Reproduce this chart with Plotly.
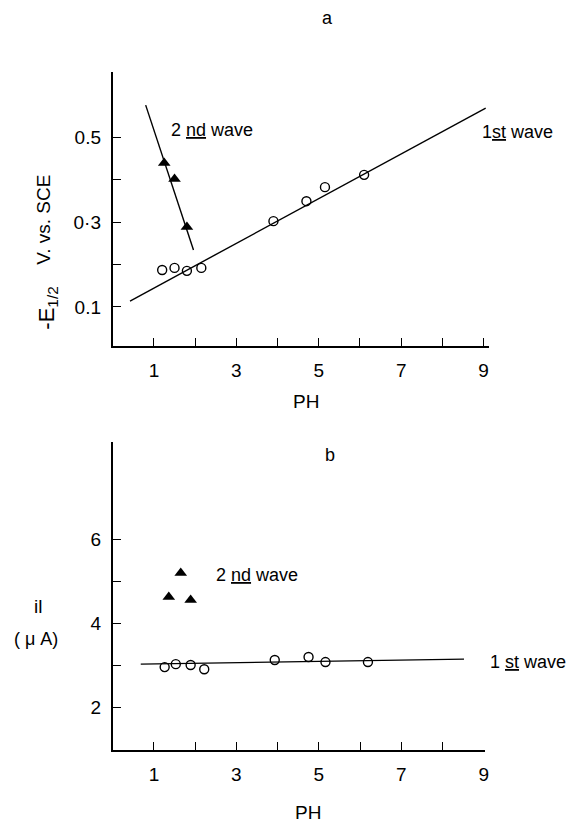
import plotly.graph_objects as go

# ---- panel a: half-wave potential vs pH ----
ph_first_a = [1.2, 1.5, 1.8, 2.15, 3.9, 4.7, 5.15, 6.1]
e_first_a = [0.187, 0.192, 0.185, 0.192, 0.302, 0.349, 0.382, 0.411]
ph_second_a = [1.25, 1.5, 1.8]
e_second_a = [0.439, 0.401, 0.288]
fit_first_a_x = [0.42, 9.05]
fit_first_a_y = [0.114, 0.568]
fit_second_a_x = [0.8, 1.96]
fit_second_a_y = [0.575, 0.234]

# ---- panel b: limiting current vs pH ----
ph_first_b = [1.26, 1.53, 1.89, 2.22, 3.93, 4.75, 5.16, 6.19]
il_first_b = [2.95, 3.02, 3.0, 2.90, 3.12, 3.19, 3.07, 3.07]
ph_second_b = [1.36, 1.65, 1.89]
il_second_b = [4.62, 5.19, 4.55]
fit_first_b_x = [0.68, 8.52]
fit_first_b_y = [3.02, 3.14]

# ---- ticks ----
x_tickvals = [1, 3, 5, 7, 9]
x_ticktext = ["1", "3", "5", "7", "9"]
x_minorvals = [2, 4, 6, 8]
ya_tickvals = [0.1, 0.3, 0.5]
ya_ticktext = ["0.1", "0·3", "0.5"]
ya_minorvals = [0.2, 0.4]
yb_tickvals = [2, 4, 6]
yb_ticktext = ["2", "4", "6"]
yb_minorvals = [3, 5]

W, H = 576, 822
FONT = "Liberation Sans"


def px(x, y):
    """pixel position -> paper coordinates"""
    return x / W, 1 - y / H


fig = go.Figure()

line_style = dict(color="black", width=1.4)
circle_style = dict(symbol="circle-open", size=9, color="black", line=dict(width=1.4, color="black"))
tri_style = dict(symbol="triangle-up", size=11, color="black")

# panel a
fig.add_trace(go.Scatter(x=fit_first_a_x, y=fit_first_a_y, mode="lines", line=line_style, xaxis="x", yaxis="y"))
fig.add_trace(go.Scatter(x=fit_second_a_x, y=fit_second_a_y, mode="lines", line=line_style, xaxis="x", yaxis="y"))
fig.add_trace(go.Scatter(x=ph_first_a, y=e_first_a, mode="markers", marker=circle_style, xaxis="x", yaxis="y"))
fig.add_trace(go.Scatter(x=ph_second_a, y=e_second_a, mode="markers", marker=tri_style, xaxis="x", yaxis="y"))

# panel b
fig.add_trace(go.Scatter(x=fit_first_b_x, y=fit_first_b_y, mode="lines", line=line_style, xaxis="x2", yaxis="y2"))
fig.add_trace(go.Scatter(x=ph_first_b, y=il_first_b, mode="markers", marker=circle_style, xaxis="x2", yaxis="y2"))
fig.add_trace(go.Scatter(x=ph_second_b, y=il_second_b, mode="markers", marker=tri_style, xaxis="x2", yaxis="y2"))

axis_common = dict(
    showgrid=False, zeroline=False, showline=True, linecolor="black", linewidth=1.8,
    ticks="inside", ticklen=8, tickwidth=1.4, tickcolor="black", tickmode="array",
    tickfont=dict(family=FONT, size=19, color="black"), ticklabelstandoff=6,
)


def minor(vals):
    return dict(tickmode="array", tickvals=vals, ticks="inside", ticklen=8,
                tickwidth=1.4, tickcolor="black", showgrid=False)


xa0, _ = px(113.5, 0)
xa1, _ = px(492, 0)
xb1, _ = px(488, 0)
_, ya_top = px(0, 72)
_, ya_bot = px(0, 346)
_, yb_top = px(0, 442)
_, yb_bot = px(0, 750)

fig.update_layout(
    width=W, height=H, margin=dict(l=0, r=0, t=0, b=0),
    paper_bgcolor="white", plot_bgcolor="white", showlegend=False,
    font=dict(family=FONT, color="black"),
    xaxis=dict(axis_common, domain=[xa0, xa1], range=[0, 9.12], anchor="y",
               tickvals=x_tickvals, ticktext=x_ticktext, minor=minor(x_minorvals)),
    yaxis=dict(axis_common, domain=[ya_bot, ya_top], range=[0.0082, 0.653], anchor="x",
               tickvals=ya_tickvals, ticktext=ya_ticktext, minor=minor(ya_minorvals)),
    xaxis2=dict(axis_common, domain=[xa0, xb1], range=[0, 9.02], anchor="y2",
                tickvals=x_tickvals, ticktext=x_ticktext, minor=minor(x_minorvals)),
    yaxis2=dict(axis_common, domain=[yb_bot, yb_top], range=[0.976, 8.31], anchor="x2",
                tickvals=yb_tickvals, ticktext=yb_ticktext, minor=minor(yb_minorvals)),
)

ann = []


def paper_text(label, pos, size=18, anchor="center", angle=0):
    x, y = px(*pos)
    ann.append(dict(x=x, y=y, xref="paper", yref="paper", text=label, showarrow=False,
                    textangle=angle, xanchor=anchor, yanchor="middle",
                    font=dict(family=FONT, size=size, color="black")))


# wave labels
paper_text("2 <u>nd</u> wave", (170, 130), anchor="left")
paper_text("1<u>st</u> wave", (483, 132), anchor="left")
paper_text("2 <u>nd</u> wave", (215, 575), anchor="left")
paper_text("1 <u>st</u> wave", (491, 662), anchor="left")

# panel letters
paper_text("a", (330, 18))
paper_text("b", (332, 455))

# axis titles
paper_text("PH", (308, 402), size=19)
paper_text("PH", (310, 812), size=19)
paper_text("V. vs. SCE", (43, 220), size=19, angle=-90)
paper_text("-E<sub>1/2</sub>", (48, 308), size=22, angle=-90)
paper_text("il", (38, 606), size=19)
paper_text("( μ A)", (36, 639), size=18)

fig.update_layout(annotations=ann)
fig.write_html("out.html")
